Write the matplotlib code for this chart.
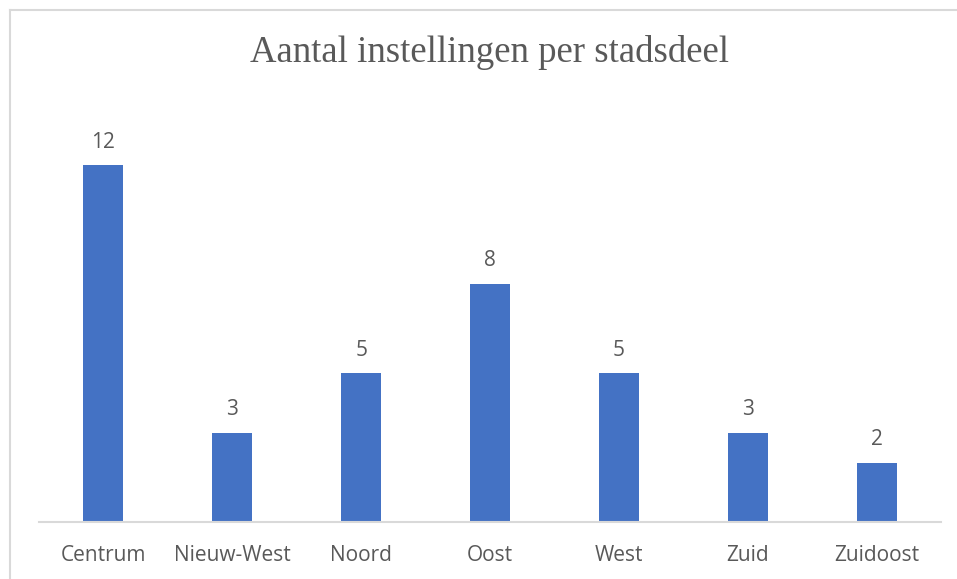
import matplotlib.pyplot as plt
from matplotlib.lines import Line2D

# data
stadsdelen = ['Centrum', 'Nieuw-West', 'Noord', 'Oost', 'West', 'Zuid', 'Zuidoost']
aantal = [12, 3, 5, 8, 5, 3, 2]

bar_color = '#4472C4'
text_color = '#595959'
line_color = '#D9D9D9'

fig = plt.figure(figsize=(9.57, 5.79), dpi=100)
ax = fig.add_axes([39 / 957, 57 / 579, 902 / 957, (522 - 105.5) / 579])

x = range(len(stadsdelen))
bars = ax.bar(x, aantal, width=0.31, color=bar_color)
ax.set_xlim(-0.5, len(stadsdelen) - 0.5)
ax.set_ylim(0, 14)

# data labels above bars
for xi, v in zip(x, aantal):
    ax.annotate(str(v), (xi, v), xytext=(0, 9), textcoords='offset points',
                ha='center', va='bottom', fontsize=15, color=text_color,
                family='Open Sans')

ax.set_xticks(list(x))
ax.set_xticklabels(stadsdelen, fontsize=15, color=text_color, family='Open Sans')
ax.tick_params(axis='x', length=0, pad=16.5)
ax.set_yticks([])
for s in ['top', 'right', 'left']:
    ax.spines[s].set_visible(False)
ax.spines['bottom'].set_color(line_color)
ax.spines['bottom'].set_linewidth(1.5)

fig.text(490 / 957, 1 - 52 / 579, 'Aantal instellingen per stadsdeel',
         ha='center', va='center', fontsize=26.5, color=text_color,
         family='Liberation Serif')

# chart border (only left and top visible in the crop)
fig.add_artist(Line2D([10 / 957, 10 / 957], [0, 1 - 10 / 579],
                      transform=fig.transFigure, color=line_color, lw=1.5))
fig.add_artist(Line2D([10 / 957, 1], [1 - 10 / 579, 1 - 10 / 579],
                      transform=fig.transFigure, color=line_color, lw=1.5))

fig.savefig('out.png', dpi=100)
